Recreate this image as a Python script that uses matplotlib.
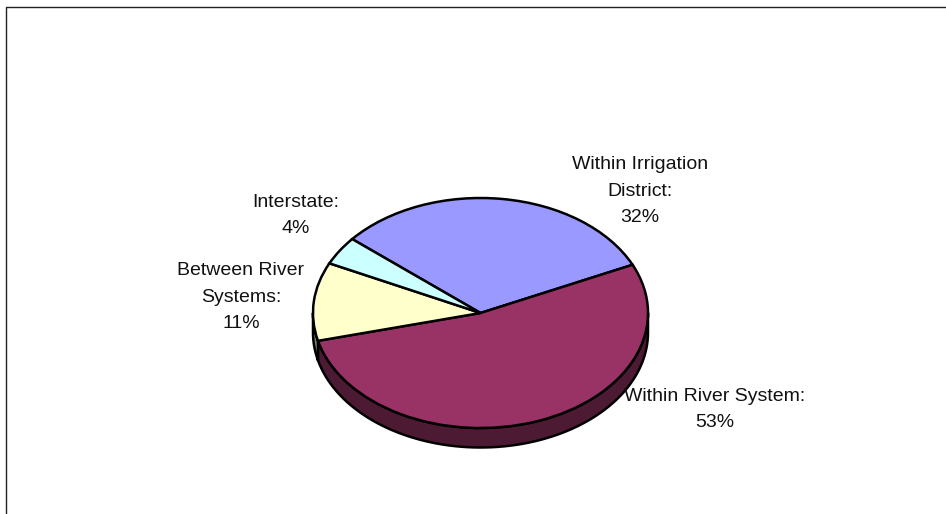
import numpy as np
import matplotlib
matplotlib.use("Agg")
from matplotlib import pyplot as plt
from matplotlib.lines import Line2D

# share of transfers by type (%)
names = ["Within Irrigation\nDistrict", "Within River System",
         "Between River\nSystems", "Interstate"]
shares = [32, 53, 11, 4]
top_colors = ["#9999FF", "#993366", "#FFFFCC", "#CCFFFF"]
side_colors = ["#4D4D80", "#4D1A33", "#808066", "#668080"]

W, H = 946, 514
cx, cy = 480.5, 313.0      # pie centre, pixels
rx, ry = 167.5, 115.0      # ellipse radii, pixels
depth = 19.5 / ry          # side thickness in data units

fig = plt.figure(figsize=(W / 100, H / 100), dpi=100)
ax = fig.add_axes([0, 0, 1, 1])

wedges, _ = ax.pie(shares, startangle=140, counterclock=False,
                   colors=top_colors,
                   wedgeprops=dict(edgecolor="black", linewidth=1.8, zorder=3))

# front side of the disc, only where a slice faces the viewer (180..360 deg)
for w, col in zip(wedges, side_colors):
    for shift in (-360, 0, 360):
        a = max(w.theta1 + shift, 180)
        b = min(w.theta2 + shift, 360)
        if b <= a:
            continue
        t = np.radians(np.linspace(a, b, 80))
        xs = np.concatenate([np.cos(t), np.cos(t[::-1])])
        ys = np.concatenate([np.sin(t), np.sin(t[::-1]) - depth])
        ax.fill(xs, ys, facecolor=col, edgecolor="black", linewidth=1.8,
                zorder=2, joinstyle="round")

ax.set_aspect("auto")
ax.set_xlim(-cx / rx, (W - cx) / rx)
ax.set_ylim(-(H - cy) / ry, cy / ry)
ax.axis("off")

# labels: centre x and baseline of the last (percentage) line, pixels
label_pos = [(640, 222), (715, 427), (241, 328), (296, 233)]
for name, v, (px, py) in zip(names, shares, label_pos):
    fig.text(px / W, 1 - py / H, f"{name}:\n{v}%", ha="center", va="baseline",
             multialignment="center", family="Liberation Sans", fontsize=14.0,
             linespacing=1.72, color="#111111")

# chart area border
fig.add_artist(Line2D([6 / W, 6 / W, 1], [0, 1 - 7 / H, 1 - 7 / H],
                      transform=fig.transFigure, color="#222222", linewidth=1.0))

fig.savefig("out.png", dpi=100)
